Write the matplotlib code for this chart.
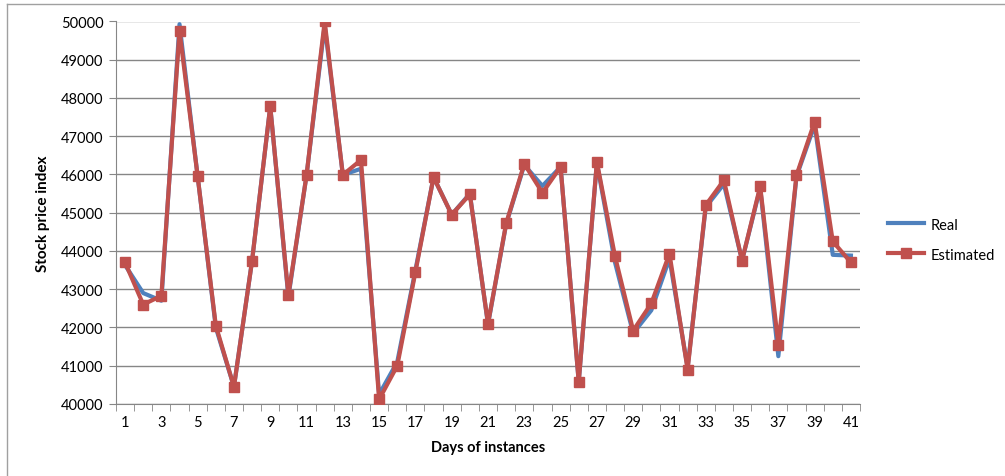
import matplotlib.pyplot as plt
from matplotlib.lines import Line2D

plt.rcParams['font.family'] = ['Lato', 'DejaVu Sans']

days = list(range(1, 42))
real = [43630, 42900, 42700, 49930, 45950, 42000, 40450, 43750, 47780, 42800,
        45980, 49900, 45990, 46150, 40250, 41100, 43500, 45930, 44950, 45500,
        42080, 44700, 46250, 45700, 46200, 40580, 46300, 43700, 41850, 42450,
        43800, 40950, 45150, 45750, 43750, 45650, 41250, 45950, 47300, 43900,
        43880]
estimated = [43700, 42600, 42830, 49750, 45950, 42050, 40450, 43750, 47780, 42850,
             45980, 50000, 45990, 46380, 40120, 41000, 43450, 45930, 44950, 45480,
             42100, 44720, 46280, 45520, 46200, 40580, 46330, 43860, 41920, 42630,
             43930, 40900, 45200, 45850, 43750, 45690, 41550, 45980, 47380, 44250,
             43700]

fig = plt.figure(figsize=(10.05, 4.77), dpi=100)
ax = fig.add_axes([116 / 1005, 72 / 477, 744 / 1005, 382.5 / 477])

ax.plot(days, real, color='#4F81BD', lw=3, label='Real', zorder=3)
ax.plot(days, estimated, color='#C0504D', lw=3, marker='s', ms=7.5,
        label='Estimated', zorder=4)

ax.set_xlim(0.5, 41.5)
ax.set_ylim(40000, 50000)
ax.set_yticks(range(40000, 50001, 1000))
ax.set_xticks(days[::2])
ax.set_xticks([d + 0.5 for d in range(0, 42)], minor=True)
ax.tick_params(axis='x', which='major', length=0, pad=8, labelsize=10.5)
ax.tick_params(axis='x', which='minor', length=5, color='#868686')
ax.tick_params(axis='y', length=5, color='#868686', labelsize=10.5, pad=4)
ax.yaxis.grid(True, color='#868686', lw=1)
ax.set_axisbelow(True)
for s in ['top', 'right']:
    ax.spines[s].set_visible(False)
for s in ['left', 'bottom']:
    ax.spines[s].set_color('#868686')

ax.set_xlabel('Days of instances', fontsize=10.5, fontweight='bold', labelpad=8)
ax.set_ylabel('Stock price index', fontsize=11, fontweight='bold', labelpad=8)

ax.legend(loc='center left', bbox_to_anchor=(1.02, 0.43), frameon=False,
          fontsize=10.5, handlelength=2.5, labelspacing=1.1, handletextpad=0.4)

# chart frame (cropped)
fig.add_artist(Line2D([7 / 1005, 1], [1 - 5 / 477, 1 - 5 / 477],
                      transform=fig.transFigure, color='#A0A0A0', lw=1))
fig.add_artist(Line2D([7 / 1005, 7 / 1005], [0, 1 - 5 / 477],
                      transform=fig.transFigure, color='#A0A0A0', lw=1))

plt.savefig('out.png', dpi=100)
